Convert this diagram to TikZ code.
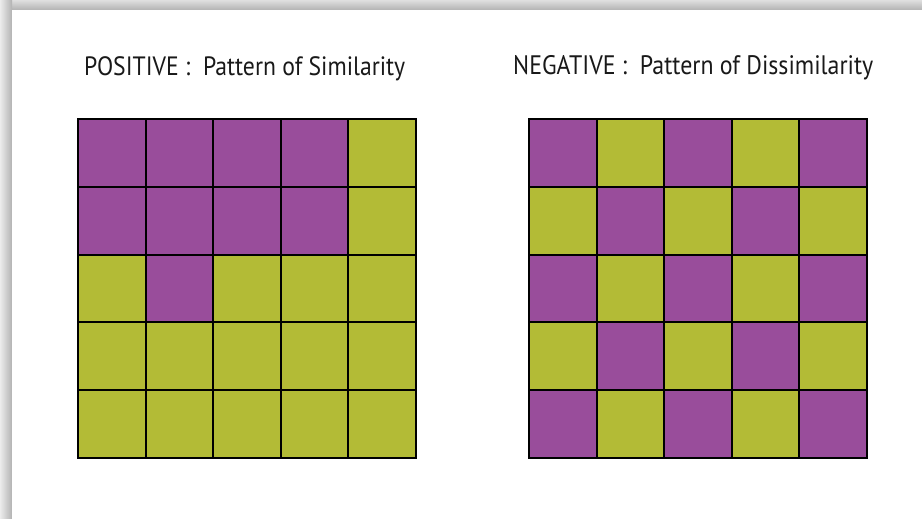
\documentclass[tikz,border=0pt]{standalone}
\usepackage{fontspec}
\setmainfont{PT Sans}
\definecolor{purp}{RGB}{153,77,155}
\definecolor{olive}{RGB}{179,187,54}
\begin{document}
\begin{tikzpicture}[x=1pt,y=-1pt,
  cellp/.style={fill=purp,draw=black,line width=2pt},
  cellg/.style={fill=olive,draw=black,line width=2pt},
  title/.style={anchor=base west,inner sep=0pt,text=black!90}]
\useasboundingbox (0,0) rectangle (922,519);
\fill[white] (0,0) rectangle (922,519);
% frame shadow
\shade[top color=gray!25,bottom color=gray!60] (0,0) rectangle (922,10);
\shade[left color=gray!15,right color=gray!60] (0,0) rectangle (12,519);
\fill[white] (12,10) rectangle (922,519);
% titles
\node[title] (tl) at (84,75) {\scalebox{1}[1.12]{\resizebox{321pt}{!}{POSITIVE :\ \ Pattern of Similarity}}};
\node[title] (tr) at (513,75) {\scalebox{1}[1.12]{\resizebox{360pt}{!}{NEGATIVE :\ \ Pattern of Dissimilarity}}};
% left grid
\def\cs{67.6}
\foreach \r/\a/\b/\cc/\d/\e in {0/p/p/p/p/g,1/p/p/p/p/g,2/g/p/g/g/g,3/g/g/g/g/g,4/g/g/g/g/g}{
  \foreach \c/\t in {0/\a,1/\b,2/\cc,3/\d,4/\e}{
    \draw[cell\t] ({78+\c*\cs},{119.5+\r*\cs}) rectangle ++(\cs,\cs);
  }
}
% right grid (checkerboard)
\foreach \r in {0,...,4}{
  \foreach \c in {0,...,4}{
    \pgfmathtruncatemacro{\pty}{mod(\r+\c,2)}
    \ifnum\pty=0
      \draw[cellp] ({529+\c*\cs},{119.5+\r*\cs}) rectangle ++(\cs,\cs);
    \else
      \draw[cellg] ({529+\c*\cs},{119.5+\r*\cs}) rectangle ++(\cs,\cs);
    \fi
  }
}
\end{tikzpicture}
\end{document}
